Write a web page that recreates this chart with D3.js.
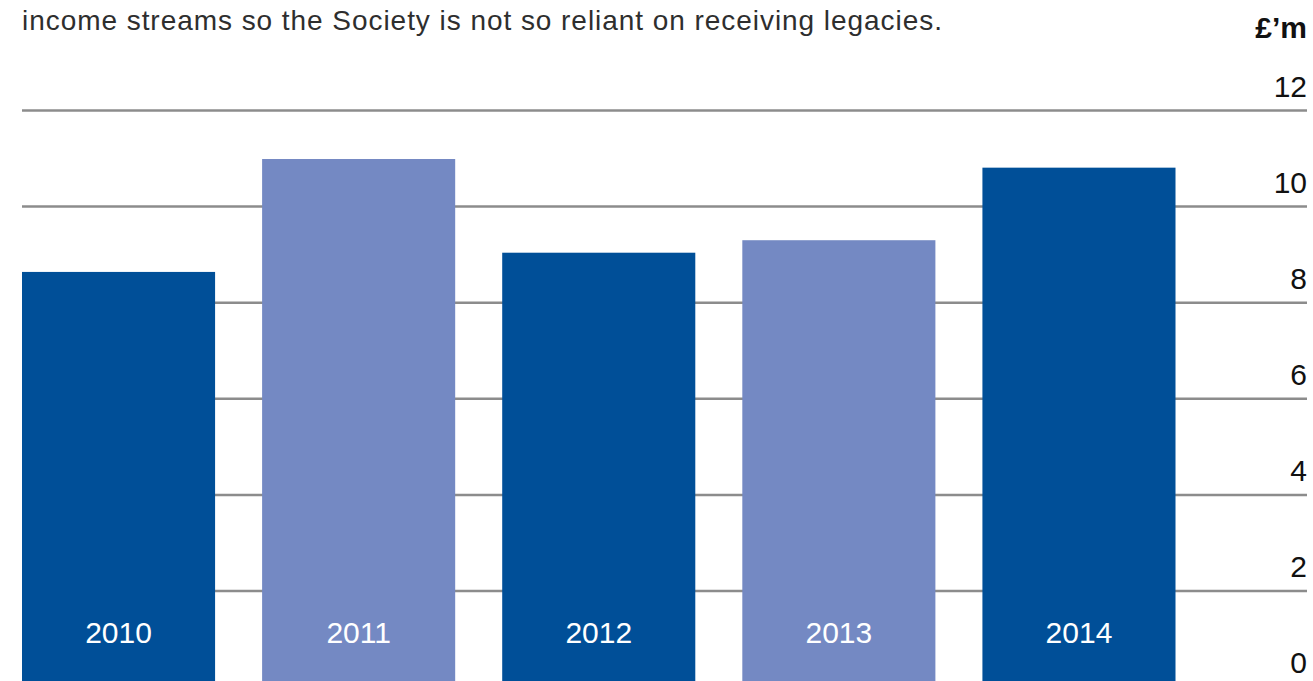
<!DOCTYPE html>
<html>
<head>
<meta charset="utf-8">
<script src="https://cdn.jsdelivr.net/npm/d3@7"></script>
<style>
  html, body { margin: 0; padding: 0; background: #fff; }
  svg { display: block; }
  text { font-family: "Liberation Sans", Arial, Helvetica, sans-serif; }
</style>
</head>
<body>
<svg id="chart" width="1313" height="681"></svg>
<script>
const years = ["2010", "2011", "2012", "2013", "2014"];
const values = [8.63, 10.98, 9.03, 9.29, 10.8];
const barColors = ["#004f98", "#7489c3", "#004f98", "#7489c3", "#004f98"];
const tickValues = [0, 2, 4, 6, 8, 10, 12];
const unitLabel = "£’m";
const introText = "income streams so the Society is not so reliant on receiving legacies.";

const svg = d3.select("#chart");
const left = 22, right = 1307;

const x = d3.scaleBand()
  .domain(years)
  .range([left, 1175.5])
  .paddingInner(47 / 240)
  .paddingOuter(0);

const y = d3.scaleLinear()
  .domain([0, 12])
  .range([686.6, 110]);

// intro text
svg.append("text")
  .attr("x", left)
  .attr("y", 30)
  .attr("font-size", 28)
  .attr("textLength", 920)
  .attr("lengthAdjust", "spacing")
  .attr("fill", "#2e2e2e")
  .text(introText);

// gridlines
const grid = d3.axisLeft(y)
  .tickValues(tickValues.filter(d => d > 0))
  .tickSize(-(right - left))
  .tickFormat("");
svg.append("g")
  .attr("transform", `translate(${left},0)`)
  .call(grid)
  .call(g => g.select(".domain").remove())
  .call(g => g.selectAll(".tick line")
    .attr("stroke", "#8c8c8c")
    .attr("stroke-width", 2.5));

// bars
svg.append("g")
  .selectAll("rect")
  .data(years)
  .join("rect")
  .attr("x", d => x(d))
  .attr("width", x.bandwidth())
  .attr("y", (d, i) => y(values[i]))
  .attr("height", (d, i) => y(0) - y(values[i]))
  .attr("fill", (d, i) => barColors[i]);

// year labels in bars
svg.append("g")
  .selectAll("text")
  .data(years)
  .join("text")
  .attr("x", d => x(d) + x.bandwidth() / 2)
  .attr("y", 643)
  .attr("text-anchor", "middle")
  .attr("font-size", 30)
  .attr("fill", "#ffffff")
  .text(d => d);

// y axis labels on right
const yAxis = d3.axisRight(y)
  .tickValues(tickValues)
  .tickSize(0)
  .tickPadding(0)
  .tickFormat(d3.format("d"));
svg.append("g")
  .attr("transform", `translate(${right},0)`)
  .call(yAxis)
  .call(g => g.select(".domain").remove())
  .call(g => g.selectAll(".tick text")
    .attr("text-anchor", "end")
    .attr("x", 0)
    .attr("dy", null)
    .attr("y", -14)
    .attr("font-size", 30)
    .attr("font-family", "'Liberation Sans', Arial, sans-serif")
    .attr("fill", "#111111"));

// unit label
svg.append("text")
  .attr("x", right)
  .attr("y", 38)
  .attr("text-anchor", "end")
  .attr("font-size", 30)
  .attr("font-weight", "bold")
  .attr("fill", "#111111")
  .text(unitLabel);
</script>
</body>
</html>
